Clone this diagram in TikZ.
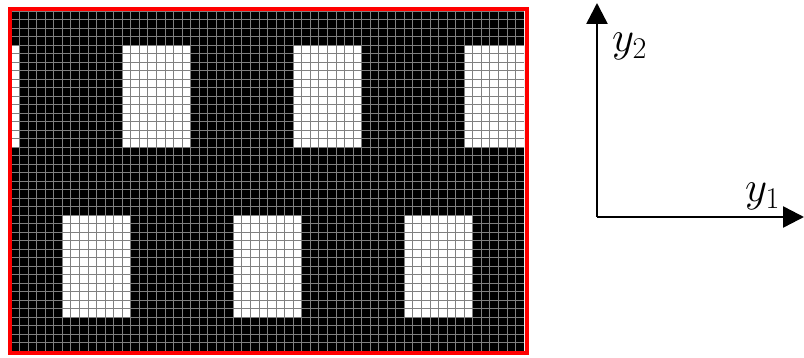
\RequirePackage{fix-cm}
\documentclass[tikz,border=0pt]{standalone}
\usepackage{xcolor}
\usepackage{tikz}
\usetikzlibrary{arrows.meta}

\begin{document}
\begin{tikzpicture}[x=1pt,y=-1pt,
                    gridline/.style={draw=gray,line width=0.8pt},
                    hole/.style={fill=white},
                    axis/.style={line width=2.5pt,-{Triangle[length=21pt,width=21pt]}},
                    lab/.style={inner sep=0pt,font=\fontsize{43}{46}\selectfont}]
\useasboundingbox (0,0) rectangle (804,358);
\begin{scope}[shift={(11,11)},x=8.55pt,y=-8.5pt]
  \clip (0,0) rectangle (60,40);
  \fill[black] (0,0) rectangle (60,40);
  \foreach \c in {-7,13,33,53}
    \fill[hole] (\c,4) rectangle (\c+8,16);
  \foreach \c in {6,26,46}
    \fill[hole] (\c,24) rectangle (\c+8,36);
  \draw[gridline,xstep=8.55pt,ystep=8.5pt] (0,0) grid (60,40);
\end{scope}
\draw[red,line width=4pt] (9.5,8.7) rectangle (526.7,353);
\coordinate (origin) at (597,217);
\coordinate (y1tip)  at (804,217);
\coordinate (y2tip)  at (597,3);
\draw[axis] (origin) -- (y1tip);
\draw[axis] (origin) -- (y2tip);
\node[lab,anchor=north west] (y2lab) at (612,33) {$y_2$};
\node[lab,anchor=north west] (y1lab) at (745,183) {$y_1$};
\end{tikzpicture}
\end{document}
